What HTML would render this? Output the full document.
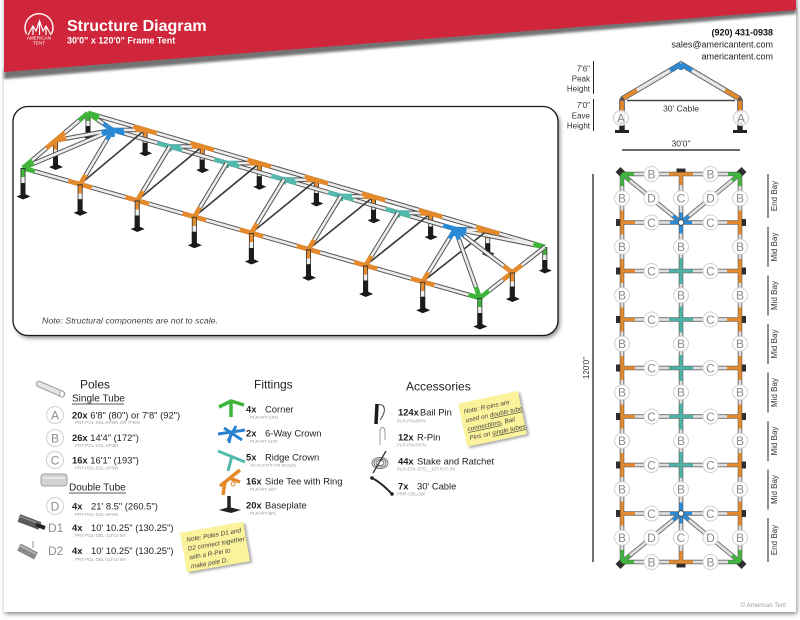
<!DOCTYPE html>
<html><head><meta charset="utf-8"><title>Structure Diagram</title>
<style>
html,body{margin:0;padding:0;background:#fff;width:800px;height:620px;overflow:hidden}
svg{display:block}
text{font-family:"Liberation Sans",Arial,Helvetica,sans-serif}
.lc{fill:#fff;stroke:#d0d0d0;stroke-width:1}
.lt{font-size:12px;fill:#8c8c8c;text-anchor:middle}
.cd{font-size:4.5px;fill:#a0a0a0}
.it{font-size:9.4px;fill:#222}
.hd{font-size:12px;fill:#222}
.nt{font-size:6.4px;fill:#444;font-style:italic}
</style></head><body>
<svg width="800" height="620" viewBox="0 0 800 620" xmlns="http://www.w3.org/2000/svg" xmlns:xlink="http://www.w3.org/1999/xlink">
<defs>
<filter id="b2" x="-10%" y="-10%" width="120%" height="120%"><feGaussianBlur stdDeviation="2"/></filter>
<filter id="b1" x="-20%" y="-20%" width="140%" height="140%"><feGaussianBlur stdDeviation="1.3"/></filter>
<g id="pF"><line x1="0" y1="0" x2="0" y2="28" stroke="#333" stroke-width="5"/><line x1="0" y1="1" x2="0" y2="9" stroke="currentColor" stroke-width="3.4"/><line x1="0" y1="9" x2="0" y2="15" stroke="#eee" stroke-width="3.4"/><line x1="0" y1="15" x2="0" y2="28" stroke="#1c1c1c" stroke-width="5"/><polygon points="-6.5,28.5 1,25.5 7.5,28.5 0,31.5" fill="#1a1a1a"/></g>
<g id="pB"><line x1="0" y1="0" x2="0" y2="23" stroke="#333" stroke-width="5"/><line x1="0" y1="1" x2="0" y2="8" stroke="currentColor" stroke-width="3.4"/><line x1="0" y1="8" x2="0" y2="13" stroke="#eee" stroke-width="3.4"/><line x1="0" y1="13" x2="0" y2="23" stroke="#1c1c1c" stroke-width="5"/><polygon points="-6,23.5 1,21 7,23.5 0,26.5" fill="#1a1a1a"/></g>
<g id="pE"><line x1="0" y1="0" x2="0" y2="26" stroke="#333" stroke-width="5"/><line x1="0" y1="1" x2="0" y2="9" stroke="currentColor" stroke-width="3.4"/><line x1="0" y1="9" x2="0" y2="14" stroke="#eee" stroke-width="3.4"/><line x1="0" y1="14" x2="0" y2="26" stroke="#1c1c1c" stroke-width="5"/><polygon points="-6.5,26.5 1,23.5 7.5,26.5 0,29.5" fill="#1a1a1a"/></g>
<path id="tF" d="M-11.7,-3.4 L11.7,3.4 M0,0 L5.6,-9.4" stroke="currentColor" stroke-width="4.6" fill="none"/>
<path id="tB" d="M-11.7,-3.4 L11.7,3.4 M0,0 L-10,0" stroke="currentColor" stroke-width="4.6" fill="none"/>
<path id="tR" d="M-12.5,-3.6 L12.5,3.6 M0,0 L-5.6,9.4 M0,0 L11,0 M0,0 L0,5" stroke="currentColor" stroke-width="4.4" fill="none"/>
<path id="bk" d="M88,113 L544.8,247 M23,168 L55.5,140.5 L88,113 M112.6,130 L455.2,229 M145.1,129.8 L112.6,130 M202.2,146.5 L169.7,146.5 M259.3,163.3 L226.8,163 M316.4,180 L283.9,179.5 M373.5,196.8 L341,196 M430.6,213.5 L398.1,212.5 M487.7,230.3 L455.2,229 M88,113 L112.6,130 M55.5,140.5 L112.6,130 M23,168 L112.6,130 M544.8,247 L455.2,229"/>
<path id="fr" d="M80.1,184.3 L112.6,130 M137.2,200.5 L169.7,146.5 M194.3,216.8 L226.8,163 M251.4,233 L283.9,179.5 M308.5,249.3 L341,196 M365.6,265.5 L398.1,212.5 M422.7,281.8 L455.2,229 M512.3,272.5 L455.2,229 M479.8,298 L455.2,229 M479.8,298 L512.3,272.5 L544.8,247 M23,168 L479.8,298"/>
<path id="pl" d="M622,174 L622,562 M681,174 L681,562 M740,174 L740,562 M622,174 L740,174 M622,222.5 L740,222.5 M622,271 L740,271 M622,319.5 L740,319.5 M622,368 L740,368 M622,416.5 L740,416.5 M622,465 L740,465 M622,513.5 L740,513.5 M622,562 L740,562 M622,174 L681,222.5 M740,174 L681,222.5 M622,562 L681,513.5 M740,562 L681,513.5"/>
</defs>

<!-- page -->
<rect x="0" y="0" width="800" height="620" fill="#fff"/>
<rect x="5" y="-4" width="792" height="618" fill="#8a8a8a" filter="url(#b2)"/>
<rect x="4" y="-4" width="792" height="616" fill="#fff"/>

<!-- header -->
<polygon points="4,69 796,7 796,14 4,79" fill="#444" opacity="0.75" filter="url(#b1)"/>
<polygon points="4,0 796,0 796,10 4,72" fill="#d0263b"/>
<path d="M26.5,34 A14,14 0 1 1 51.5,34" fill="none" stroke="#fff" stroke-width="1.4"/>
<path d="M28,35 L33,26 L36,31 L39.5,21 L43,31 L46,26 L51,35 M33,26 L33,35 M39.5,21 L39.5,35 M46,26 L46,35" fill="none" stroke="#fff" stroke-width="1.2"/>
<text x="39" y="39.5" font-size="4.6" fill="#fff" text-anchor="middle">AMERICAN</text>
<text x="39" y="44.5" font-size="4.6" fill="#fff" text-anchor="middle">TENT</text>
<text x="67" y="31" font-size="16" font-weight="bold" fill="#fff">Structure Diagram</text>
<text x="67" y="43.5" font-size="9" font-weight="bold" fill="#fff">30'0" x 120'0" Frame Tent</text>
<text x="773" y="35.5" text-anchor="end" font-size="9" font-weight="bold" fill="#111">(920) 431-0938</text>
<text x="773" y="47.3" text-anchor="end" font-size="9" fill="#222">sales@americantent.com</text>
<text x="773" y="59.3" text-anchor="end" font-size="9" fill="#222">americantent.com</text>

<!-- side profile -->
<text x="590" y="71.5" text-anchor="end" font-size="8" fill="#333">7'6"</text>
<text x="590" y="81.5" text-anchor="end" font-size="8" fill="#333">Peak</text>
<text x="590" y="91.5" text-anchor="end" font-size="8" fill="#333">Height</text>
<text x="590" y="108" text-anchor="end" font-size="8" fill="#333">7'0"</text>
<text x="590" y="118.5" text-anchor="end" font-size="8" fill="#333">Eave</text>
<text x="590" y="128.5" text-anchor="end" font-size="8" fill="#333">Height</text>
<line x1="593.5" y1="61" x2="593.5" y2="94" stroke="#222" stroke-width="1"/>
<line x1="593.5" y1="99" x2="593.5" y2="131" stroke="#222" stroke-width="1"/>
<line x1="622" y1="99" x2="622" y2="131" stroke="#444" stroke-width="5.5"/>
<line x1="740" y1="99" x2="740" y2="131" stroke="#444" stroke-width="5.5"/>
<path d="M622,99 L622,112 M740,99 L740,112" stroke="#e58a2b" stroke-width="3.8"/>
<path d="M622,112 L622,122 M740,112 L740,122" stroke="#ddd" stroke-width="3.8"/>
<path d="M622,122 L622,131 M740,122 L740,131" stroke="#222" stroke-width="5"/>
<rect x="615" y="130" width="14" height="3" fill="#222"/>
<rect x="733" y="130" width="14" height="3" fill="#222"/>
<path d="M622,99 L681,64 L740,99" fill="none" stroke="#666" stroke-width="5.5"/>
<path d="M622,99 L681,64 L740,99" fill="none" stroke="#e6e6e6" stroke-width="3.5"/>
<path d="M622,99 L637,90.1 M740,99 L725,90.1" stroke="#e58a2b" stroke-width="3.8"/>
<path d="M681,64 L670,70.5 M681,64 L692,70.5 M681,64 L681,70" stroke="#2a8ad6" stroke-width="4"/>
<line x1="627" y1="100.5" x2="735" y2="100.5" stroke="#444" stroke-width="1.6"/>
<circle cx="622" cy="99" r="2" fill="#555"/><circle cx="740" cy="99" r="2" fill="#555"/>
<circle cx="621" cy="118" r="7.5" fill="#fff" fill-opacity="0.85" stroke="#ccc"/>
<text x="621" y="122.3" class="lt">A</text>
<circle cx="741" cy="118" r="7.5" fill="#fff" fill-opacity="0.85" stroke="#ccc"/>
<text x="741" y="122.3" class="lt">A</text>
<text x="681" y="111.5" text-anchor="middle" font-size="8.6" fill="#333">30' Cable</text>
<text x="681" y="146.5" text-anchor="middle" font-size="8.6" fill="#333">30'0"</text>
<line x1="622" y1="150" x2="740" y2="150" stroke="#111" stroke-width="1.3"/>

<!-- 3D box -->
<rect x="15" y="109" width="545" height="229" rx="15" fill="#555" opacity="0.7" filter="url(#b2)"/>
<rect x="13" y="106.5" width="545" height="229" rx="15" fill="#fff" stroke="#1a1a1a" stroke-width="1.3"/>
<text x="42" y="323.5" font-size="8.6" font-style="italic" fill="#444" textLength="176" lengthAdjust="spacingAndGlyphs">Note: Structural components are not to scale.</text>

<!-- back posts -->
<use xlink:href="#pB" x="88" y="113" color="#3fb53c"/>
<use xlink:href="#pB" x="145.1" y="129.8" color="#e58a2b"/>
<use xlink:href="#pB" x="202.2" y="146.5" color="#e58a2b"/>
<use xlink:href="#pB" x="259.3" y="163.3" color="#e58a2b"/>
<use xlink:href="#pB" x="316.4" y="180" color="#e58a2b"/>
<use xlink:href="#pB" x="373.5" y="196.8" color="#e58a2b"/>
<use xlink:href="#pB" x="430.6" y="213.5" color="#e58a2b"/>
<use xlink:href="#pB" x="487.7" y="230.3" color="#e58a2b"/>
<use xlink:href="#pB" x="544.8" y="247" color="#3fb53c"/>
<use xlink:href="#pE" x="55.5" y="140.5" color="#e58a2b"/>
<!-- back tubes -->
<use xlink:href="#bk" fill="none" stroke="#555" stroke-width="4.6"/>
<use xlink:href="#bk" fill="none" stroke="#ececec" stroke-width="2.6"/>
<!-- cables -->
<path d="M80.1,184.3 L145.1,129.8 M137.2,200.5 L202.2,146.5 M194.3,216.8 L259.3,163.3 M251.4,233 L316.4,180 M308.5,249.3 L373.5,196.8 M365.6,265.5 L430.6,213.5 M422.7,281.8 L487.7,230.3" stroke="#383838" stroke-width="1.6" fill="none"/>
<!-- back fittings -->
<use xlink:href="#tB" x="145.1" y="129.8" color="#e58a2b"/>
<use xlink:href="#tB" x="202.2" y="146.5" color="#e58a2b"/>
<use xlink:href="#tB" x="259.3" y="163.3" color="#e58a2b"/>
<use xlink:href="#tB" x="316.4" y="180" color="#e58a2b"/>
<use xlink:href="#tB" x="373.5" y="196.8" color="#e58a2b"/>
<use xlink:href="#tB" x="430.6" y="213.5" color="#e58a2b"/>
<use xlink:href="#tB" x="487.7" y="230.3" color="#e58a2b"/>
<path d="M46.3,148.3 L64.7,132.7 M55.5,140.5 l10.8,-2" stroke="#e58a2b" stroke-width="4.6" fill="none"/>
<path d="M88,113 l11.3,3.3 M88,113 l-9,7.5 M88,113 l9.6,6.6" stroke="#3fb53c" stroke-width="4.6" fill="none"/>
<path d="M544.8,247 l-11.3,-3.3 M544.8,247 l-9.1,7.2 M544.8,247 l-11.4,-2.3" stroke="#3fb53c" stroke-width="4.6" fill="none"/>
<use xlink:href="#tR" x="169.7" y="146.5" color="#54b9ad"/>
<use xlink:href="#tR" x="226.8" y="163" color="#54b9ad"/>
<use xlink:href="#tR" x="283.9" y="179.5" color="#54b9ad"/>
<use xlink:href="#tR" x="341" y="196" color="#54b9ad"/>
<use xlink:href="#tR" x="398.1" y="212.5" color="#54b9ad"/>
<!-- front tubes -->
<use xlink:href="#fr" fill="none" stroke="#555" stroke-width="4.6"/>
<use xlink:href="#fr" fill="none" stroke="#ececec" stroke-width="2.6"/>
<!-- crowns -->
<path d="M112.6,130 l-5.8,9.6 M112.6,130 l11.3,0 M112.6,130 l12,3.5 M112.6,130 l-10.4,4.4 M112.6,130 l-9.3,-6.4 M112.6,130 l-11.1,2 M112.6,130 l0,7" stroke="#2a8ad6" stroke-width="4.4" fill="none"/>
<path d="M455.2,229 l-5.8,9.6 M455.2,229 l11.3,0.4 M455.2,229 l-12,-3.5 M455.2,229 l3.8,10.6 M455.2,229 l11,2.3 M455.2,229 l9,6.9 M455.2,229 l0,7" stroke="#2a8ad6" stroke-width="4.4" fill="none"/>
<!-- front fittings -->
<use xlink:href="#tF" x="80.1" y="184.3" color="#e58a2b"/>
<use xlink:href="#tF" x="137.2" y="200.5" color="#e58a2b"/>
<use xlink:href="#tF" x="194.3" y="216.8" color="#e58a2b"/>
<use xlink:href="#tF" x="251.4" y="233" color="#e58a2b"/>
<use xlink:href="#tF" x="308.5" y="249.3" color="#e58a2b"/>
<use xlink:href="#tF" x="365.6" y="265.5" color="#e58a2b"/>
<use xlink:href="#tF" x="422.7" y="281.8" color="#e58a2b"/>
<path d="M502.9,279.9 L521.7,265.1 M512.3,272.5 l-8.7,-6.6" stroke="#e58a2b" stroke-width="4.6" fill="none"/>
<path d="M23,168 l11.7,3.4 M23,168 l9.1,-7.7 M23,168 l10.8,-4.6" stroke="#3fb53c" stroke-width="4.6" fill="none"/>
<path d="M479.8,298 l-11.3,-3.3 M479.8,298 l9.1,-7.2 M479.8,298 l-3.9,-11" stroke="#3fb53c" stroke-width="4.6" fill="none"/>
<!-- front posts -->
<use xlink:href="#pF" x="23" y="168" color="#3fb53c"/>
<use xlink:href="#pF" x="80.1" y="184.3" color="#e58a2b"/>
<use xlink:href="#pF" x="137.2" y="200.5" color="#e58a2b"/>
<use xlink:href="#pF" x="194.3" y="216.8" color="#e58a2b"/>
<use xlink:href="#pF" x="251.4" y="233" color="#e58a2b"/>
<use xlink:href="#pF" x="308.5" y="249.3" color="#e58a2b"/>
<use xlink:href="#pF" x="365.6" y="265.5" color="#e58a2b"/>
<use xlink:href="#pF" x="422.7" y="281.8" color="#e58a2b"/>
<use xlink:href="#pF" x="479.8" y="298" color="#3fb53c"/>
<use xlink:href="#pE" x="512.3" y="272.5" color="#e58a2b"/>

<!-- plan view -->
<line x1="593" y1="174" x2="593" y2="562" stroke="#111" stroke-width="1.2"/>
<text transform="translate(589,368) rotate(-90)" text-anchor="middle" font-size="8" fill="#333">120'0"</text>
<use xlink:href="#pl" fill="none" stroke="#666" stroke-width="4.6"/>
<use xlink:href="#pl" fill="none" stroke="#e0e0e0" stroke-width="2.8"/>
<g fill="#2e2e2e">
<rect x="616" y="219" width="4.5" height="7"/><rect x="616" y="267.5" width="4.5" height="7"/><rect x="616" y="316" width="4.5" height="7"/><rect x="616" y="364.5" width="4.5" height="7"/><rect x="616" y="413" width="4.5" height="7"/><rect x="616" y="461.5" width="4.5" height="7"/><rect x="616" y="510" width="4.5" height="7"/>
<rect x="741.5" y="219" width="4.5" height="7"/><rect x="741.5" y="267.5" width="4.5" height="7"/><rect x="741.5" y="316" width="4.5" height="7"/><rect x="741.5" y="364.5" width="4.5" height="7"/><rect x="741.5" y="413" width="4.5" height="7"/><rect x="741.5" y="461.5" width="4.5" height="7"/><rect x="741.5" y="510" width="4.5" height="7"/>
<rect x="676.5" y="168.5" width="9" height="4.5"/><rect x="676.5" y="563" width="9" height="4.5"/>
<polygon points="620.5,167 625.5,172 620.5,177 615.5,172"/><polygon points="741.5,167 746.5,172 741.5,177 736.5,172"/>
<polygon points="620.5,559 625.5,564 620.5,569 615.5,564"/><polygon points="741.5,559 746.5,564 741.5,569 736.5,564"/>
</g>
<path d="M622,210.5 L622,234.5 M622,222.5 L635,222.5 M622,259 L622,283 M622,271 L635,271 M622,307.5 L622,331.5 M622,319.5 L635,319.5 M622,356 L622,380 M622,368 L635,368 M622,404.5 L622,428.5 M622,416.5 L635,416.5 M622,453 L622,477 M622,465 L635,465 M622,501.5 L622,525.5 M622,513.5 L635,513.5 M740,210.5 L740,234.5 M740,222.5 L727,222.5 M740,259 L740,283 M740,271 L727,271 M740,307.5 L740,331.5 M740,319.5 L727,319.5 M740,356 L740,380 M740,368 L727,368 M740,404.5 L740,428.5 M740,416.5 L727,416.5 M740,453 L740,477 M740,465 L727,465 M740,501.5 L740,525.5 M740,513.5 L727,513.5 M669,174 L693,174 M681,174 L681,185 M669,562 L693,562 M681,562 L681,551" stroke="#e58a2b" stroke-width="3.3" fill="none"/>
<path d="M681,258 L681,284 M669,271 L693,271 M681,306.5 L681,332.5 M669,319.5 L693,319.5 M681,355 L681,381 M669,368 L693,368 M681,403.5 L681,429.5 M669,416.5 L693,416.5 M681,452 L681,478 M669,465 L693,465" stroke="#4db3a8" stroke-width="3.2" fill="none"/>
<path d="M681,222.5 l-11,0 M681,222.5 l11,0 M681,222.5 l0,11 M681,222.5 l0,-10 M681,222.5 l-8,-6.6 M681,222.5 l8,-6.6 M681,513.5 l-11,0 M681,513.5 l11,0 M681,513.5 l0,-11 M681,513.5 l0,10 M681,513.5 l-8,6.6 M681,513.5 l8,6.6" stroke="#2a8ad6" stroke-width="3.2" fill="none"/>
<circle cx="681" cy="222.5" r="2.8" fill="#fff" stroke="#333" stroke-width="0.8"/>
<circle cx="681" cy="513.5" r="2.8" fill="#fff" stroke="#333" stroke-width="0.8"/>
<path d="M622,174 L634,174 M622,174 L622,186 M622,174 l8,6.6 M740,174 L728,174 M740,174 L740,186 M740,174 l-8,6.6 M622,562 L634,562 M622,562 L622,550 M622,562 l8,-6.6 M740,562 L728,562 M740,562 L740,550 M740,562 l-8,-6.6" stroke="#3fb53c" stroke-width="3.2" fill="none"/>
<!-- plan labels -->
<g>
<circle class="lc" cx="622" cy="198.25" r="7.5"/><text class="lt" x="622" y="202.5">B</text>
<circle class="lc" cx="622" cy="246.75" r="7.5"/><text class="lt" x="622" y="251">B</text>
<circle class="lc" cx="622" cy="295.25" r="7.5"/><text class="lt" x="622" y="299.5">B</text>
<circle class="lc" cx="622" cy="343.75" r="7.5"/><text class="lt" x="622" y="348">B</text>
<circle class="lc" cx="622" cy="392.25" r="7.5"/><text class="lt" x="622" y="396.5">B</text>
<circle class="lc" cx="622" cy="440.75" r="7.5"/><text class="lt" x="622" y="445">B</text>
<circle class="lc" cx="622" cy="489.25" r="7.5"/><text class="lt" x="622" y="493.5">B</text>
<circle class="lc" cx="622" cy="537.75" r="7.5"/><text class="lt" x="622" y="542">B</text>
<circle class="lc" cx="740" cy="198.25" r="7.5"/><text class="lt" x="740" y="202.5">B</text>
<circle class="lc" cx="740" cy="246.75" r="7.5"/><text class="lt" x="740" y="251">B</text>
<circle class="lc" cx="740" cy="295.25" r="7.5"/><text class="lt" x="740" y="299.5">B</text>
<circle class="lc" cx="740" cy="343.75" r="7.5"/><text class="lt" x="740" y="348">B</text>
<circle class="lc" cx="740" cy="392.25" r="7.5"/><text class="lt" x="740" y="396.5">B</text>
<circle class="lc" cx="740" cy="440.75" r="7.5"/><text class="lt" x="740" y="445">B</text>
<circle class="lc" cx="740" cy="489.25" r="7.5"/><text class="lt" x="740" y="493.5">B</text>
<circle class="lc" cx="740" cy="537.75" r="7.5"/><text class="lt" x="740" y="542">B</text>
<circle class="lc" cx="681" cy="198.25" r="7.5"/><text class="lt" x="681" y="202.5">C</text>
<circle class="lc" cx="681" cy="246.75" r="7.5"/><text class="lt" x="681" y="251">B</text>
<circle class="lc" cx="681" cy="295.25" r="7.5"/><text class="lt" x="681" y="299.5">B</text>
<circle class="lc" cx="681" cy="343.75" r="7.5"/><text class="lt" x="681" y="348">B</text>
<circle class="lc" cx="681" cy="392.25" r="7.5"/><text class="lt" x="681" y="396.5">B</text>
<circle class="lc" cx="681" cy="440.75" r="7.5"/><text class="lt" x="681" y="445">B</text>
<circle class="lc" cx="681" cy="489.25" r="7.5"/><text class="lt" x="681" y="493.5">B</text>
<circle class="lc" cx="681" cy="537.75" r="7.5"/><text class="lt" x="681" y="542">C</text>
<circle class="lc" cx="651.5" cy="198.25" r="7.5"/><text class="lt" x="651.5" y="202.5">D</text>
<circle class="lc" cx="710.5" cy="198.25" r="7.5"/><text class="lt" x="710.5" y="202.5">D</text>
<circle class="lc" cx="651.5" cy="537.75" r="7.5"/><text class="lt" x="651.5" y="542">D</text>
<circle class="lc" cx="710.5" cy="537.75" r="7.5"/><text class="lt" x="710.5" y="542">D</text>
<circle class="lc" cx="651.5" cy="174" r="7.5"/><text class="lt" x="651.5" y="178.3">B</text>
<circle class="lc" cx="710.5" cy="174" r="7.5"/><text class="lt" x="710.5" y="178.3">B</text>
<circle class="lc" cx="651.5" cy="562" r="7.5"/><text class="lt" x="651.5" y="566.3">B</text>
<circle class="lc" cx="710.5" cy="562" r="7.5"/><text class="lt" x="710.5" y="566.3">B</text>
<circle class="lc" cx="651.5" cy="222.5" r="7.5"/><text class="lt" x="651.5" y="226.8">C</text>
<circle class="lc" cx="710.5" cy="222.5" r="7.5"/><text class="lt" x="710.5" y="226.8">C</text>
<circle class="lc" cx="651.5" cy="271" r="7.5"/><text class="lt" x="651.5" y="275.3">C</text>
<circle class="lc" cx="710.5" cy="271" r="7.5"/><text class="lt" x="710.5" y="275.3">C</text>
<circle class="lc" cx="651.5" cy="319.5" r="7.5"/><text class="lt" x="651.5" y="323.8">C</text>
<circle class="lc" cx="710.5" cy="319.5" r="7.5"/><text class="lt" x="710.5" y="323.8">C</text>
<circle class="lc" cx="651.5" cy="368" r="7.5"/><text class="lt" x="651.5" y="372.3">C</text>
<circle class="lc" cx="710.5" cy="368" r="7.5"/><text class="lt" x="710.5" y="372.3">C</text>
<circle class="lc" cx="651.5" cy="416.5" r="7.5"/><text class="lt" x="651.5" y="420.8">C</text>
<circle class="lc" cx="710.5" cy="416.5" r="7.5"/><text class="lt" x="710.5" y="420.8">C</text>
<circle class="lc" cx="651.5" cy="465" r="7.5"/><text class="lt" x="651.5" y="469.3">C</text>
<circle class="lc" cx="710.5" cy="465" r="7.5"/><text class="lt" x="710.5" y="469.3">C</text>
<circle class="lc" cx="651.5" cy="513.5" r="7.5"/><text class="lt" x="651.5" y="517.8">C</text>
<circle class="lc" cx="710.5" cy="513.5" r="7.5"/><text class="lt" x="710.5" y="517.8">C</text>
</g>
<!-- bay labels -->
<path d="M768,174 L768,218 M768,227 L768,267 M768,275.5 L768,315.5 M768,324 L768,364 M768,372.5 L768,412.5 M768,421 L768,461 M768,469.5 L768,509.5 M768,518 L768,562" stroke="#222" stroke-width="1"/>
<g font-size="8" fill="#333" text-anchor="middle">
<text transform="translate(777,196) rotate(-90)">End Bay</text>
<text transform="translate(777,247) rotate(-90)">Mid Bay</text>
<text transform="translate(777,295.5) rotate(-90)">Mid Bay</text>
<text transform="translate(777,344) rotate(-90)">Mid Bay</text>
<text transform="translate(777,392.5) rotate(-90)">Mid Bay</text>
<text transform="translate(777,441) rotate(-90)">Mid Bay</text>
<text transform="translate(777,489.5) rotate(-90)">Mid Bay</text>
<text transform="translate(777,540) rotate(-90)">End Bay</text>
</g>

<!-- Poles -->
<line x1="39" y1="384" x2="62" y2="394" stroke="#9a9a9a" stroke-width="6.5" stroke-linecap="round"/>
<line x1="39" y1="384" x2="62" y2="394" stroke="#e4e4e4" stroke-width="4.5" stroke-linecap="round"/>
<ellipse cx="62" cy="394" rx="2.2" ry="3.2" fill="#fff" stroke="#999" stroke-width="0.8"/>
<text x="80" y="388.5" class="hd">Poles</text>
<text x="72" y="401.5" font-size="10" fill="#222">Single Tube</text>
<line x1="72" y1="404" x2="124" y2="404" stroke="#222" stroke-width="0.8"/>
<circle class="lc" cx="55" cy="415" r="8.5"/><text class="lt" x="55" y="419.5">A</text>
<text x="72" y="418.5" class="it"><tspan font-weight="bold">20x</tspan> 6'8" (80") or 7'8" (92")</text>
<text x="75" y="424" class="cd">PRT-POL-SGL-6F8IN OR 7F8IN</text>
<circle class="lc" cx="55" cy="438" r="8.5"/><text class="lt" x="55" y="442.5">B</text>
<text x="72" y="441" class="it"><tspan font-weight="bold">26x</tspan> 14'4" (172")</text>
<text x="75" y="447" class="cd">PRT-POL-SGL-6F8IN</text>
<circle class="lc" cx="55" cy="460" r="8.5"/><text class="lt" x="55" y="464.5">C</text>
<text x="72" y="463.5" class="it"><tspan font-weight="bold">16x</tspan> 16'1" (193")</text>
<text x="75" y="469.5" class="cd">PRT-POL-SGL-6F8IN</text>
<rect x="41" y="474" width="26" height="12" rx="3" fill="#d2d2d2" stroke="#a0a0a0"/>
<line x1="43" y1="478" x2="65" y2="478" stroke="#eee" stroke-width="1.5"/>
<text x="69" y="490.5" font-size="10" fill="#222">Double Tube</text>
<line x1="69" y1="493" x2="126" y2="493" stroke="#222" stroke-width="0.8"/>
<circle class="lc" cx="55" cy="506" r="8.5"/><text class="lt" x="55" y="510.5">D</text>
<text x="72" y="509.5" class="it"><tspan font-weight="bold">4x</tspan></text>
<text x="91" y="509.5" class="it">21' 8.5" (260.5")</text>
<text x="75" y="516" class="cd">PRT-POL-SGL-6F8IN</text>
<line x1="19" y1="518" x2="40" y2="526" stroke="#5a5a5a" stroke-width="8"/>
<line x1="19" y1="516" x2="40" y2="524" stroke="#8a8a8a" stroke-width="1.5"/>
<line x1="36" y1="524.5" x2="45" y2="528" stroke="#222" stroke-width="4"/>
<text x="48" y="532" font-size="12" fill="#8c8c8c">D1</text>
<text x="72" y="531" class="it"><tspan font-weight="bold">4x</tspan></text>
<text x="91" y="531" class="it">10' 10.25" (130.25")</text>
<text x="75" y="537" class="cd">PRT-POL-DBL-21F10.5N</text>
<line x1="19" y1="547" x2="36" y2="556" stroke="#8a8a8a" stroke-width="8"/>
<line x1="19" y1="545" x2="36" y2="554" stroke="#bdbdbd" stroke-width="1.5"/>
<line x1="33" y1="541" x2="33" y2="548" stroke="#777" stroke-width="0.8"/>
<text x="48" y="555" font-size="12" fill="#8c8c8c">D2</text>
<text x="72" y="554" class="it"><tspan font-weight="bold">4x</tspan></text>
<text x="91" y="554" class="it">10' 10.25" (130.25")</text>
<text x="75" y="561" class="cd">PRT-POL-DBL-21F10.5N</text>
<!-- sticky 1 -->
<g transform="rotate(-10 215 547)">
<rect x="185" y="529" width="64" height="40" fill="#555" opacity="0.5" filter="url(#b1)"/>
<rect x="183" y="527" width="64" height="40" fill="#fbf39b"/>
<text x="188" y="537" class="nt">Note: Poles D1 and</text>
<text x="188" y="546" class="nt">D2 connect together</text>
<text x="188" y="555" class="nt">with a R-Pin to</text>
<text x="188" y="564" class="nt">make pole D.</text>
</g>

<!-- Fittings -->
<text x="254" y="388.5" class="hd">Fittings</text>
<path d="M219,407 L231,401 L244,405 M231,401 L231,417" stroke="#3db43a" stroke-width="3.5" fill="none"/>
<path d="M218,434 L245,430 M224,428 L242,440 M228,441 L236,426 M231,433 L229,443" stroke="#2b82d0" stroke-width="3" fill="none"/>
<path d="M218,451 L245,462 M232,456 L228,471" stroke="#54b9ad" stroke-width="3" fill="none"/>
<path d="M220,486 L240,470 M225,482 L223,495 M229,478 L240,482" stroke="#e58a2b" stroke-width="3.5" fill="none"/>
<circle cx="233" cy="484" r="2" fill="none" stroke="#e58a2b" stroke-width="1"/>
<line x1="229" y1="496" x2="229" y2="509" stroke="#222" stroke-width="3.5"/>
<polygon points="219,510 229,507 241,510 231,513" fill="#222"/>
<text x="246" y="412.3" class="it" font-weight="bold">4x</text><text x="265" y="412.3" class="it">Corner</text>
<text x="250" y="419" class="cd">PLR-FIT-CRN</text>
<text x="246" y="436.3" class="it" font-weight="bold">2x</text><text x="265" y="436.3" class="it">6-Way Crown</text>
<text x="250" y="443" class="cd">PLR-FIT-6CR</text>
<text x="246" y="460.3" class="it" font-weight="bold">5x</text><text x="265" y="460.3" class="it">Ridge Crown</text>
<text x="250" y="467" class="cd">AT-IT-STFT-FR-RCWN</text>
<text x="246" y="484.3" class="it" font-weight="bold">16x</text><text x="265" y="484.3" class="it">Side Tee with Ring</text>
<text x="250" y="491" class="cd">PLR-FIT-4ST</text>
<text x="246" y="508.3" class="it" font-weight="bold">20x</text><text x="265" y="508.3" class="it">Baseplate</text>
<text x="250" y="515" class="cd">PLR-FIT-BPL</text>

<!-- Accessories -->
<text x="406" y="390.5" class="hd">Accessories</text>
<line x1="377" y1="404" x2="376" y2="424" stroke="#1a1a1a" stroke-width="3.5"/>
<path d="M378,405 C385,403 387,411 380,420" stroke="#444" stroke-width="1" fill="none"/>
<path d="M380,445 L380,432 C380,426 385,426 385,432 L385,440" stroke="#999" stroke-width="1" fill="none"/>
<ellipse cx="380" cy="463" rx="8" ry="5.5" fill="none" stroke="#555" stroke-width="0.8"/>
<ellipse cx="380" cy="463" rx="6" ry="4" fill="none" stroke="#555" stroke-width="0.8"/>
<ellipse cx="380" cy="463" rx="4" ry="2.5" fill="none" stroke="#555" stroke-width="0.8"/>
<line x1="373" y1="473" x2="386" y2="451" stroke="#333" stroke-width="1.3"/>
<path d="M372,478 C380,482 386,488 392,494" stroke="#222" stroke-width="2" fill="none"/>
<circle cx="372" cy="478" r="1.8" fill="#222"/><circle cx="392" cy="494" r="1.8" fill="#222"/>
<text x="398" y="415.3" class="it" font-weight="bold">124x</text><text x="420" y="415.3" class="it">Bail Pin</text>
<text x="397" y="422.5" class="cd">PLR-PIN-BPN</text>
<text x="398" y="440.3" class="it" font-weight="bold">12x</text><text x="417" y="440.3" class="it">R-Pin</text>
<text x="397" y="446.5" class="cd">PLR-PIN-RPN</text>
<text x="398" y="464.3" class="it" font-weight="bold">44x</text><text x="417" y="464.3" class="it">Stake and Ratchet</text>
<text x="397" y="470.5" class="cd">PLR-STK-STD__KIT-RAT-3N</text>
<text x="398" y="489.3" class="it" font-weight="bold">7x</text><text x="417" y="489.3" class="it">30' Cable</text>
<text x="397" y="495.5" class="cd">PRR-CBL-30F</text>
<!-- sticky 2 -->
<g transform="rotate(-12 492 419)">
<rect x="464" y="399" width="61" height="44" fill="#555" opacity="0.5" filter="url(#b1)"/>
<rect x="462" y="397" width="61" height="44" fill="#fbf39b"/>
<text x="466" y="408" class="nt">Note: R-pins are</text>
<text x="466" y="417" class="nt">used on <tspan text-decoration="underline">double tube</tspan></text>
<text x="466" y="426" class="nt"><tspan text-decoration="underline">connections</tspan>, Bail</text>
<text x="466" y="435" class="nt">Pins on <tspan text-decoration="underline">single tubes</tspan>.</text>
</g>

<text x="786" y="607" text-anchor="end" font-size="6.2" fill="#a0a0a0">© American Tent</text>
</svg>
</body></html>
